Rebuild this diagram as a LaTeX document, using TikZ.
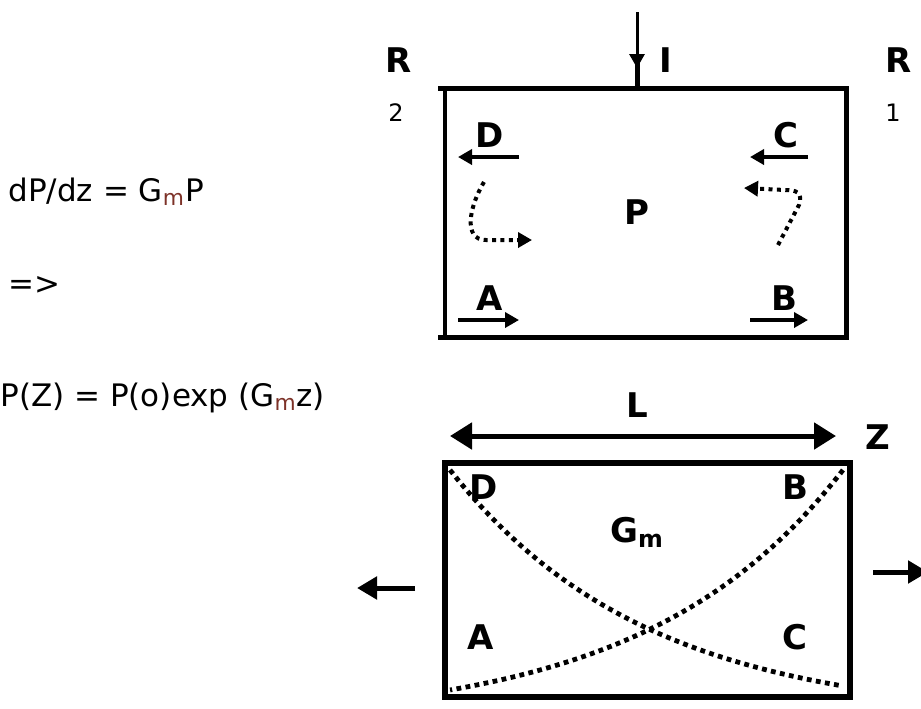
\documentclass[tikz,border=0pt]{standalone}
\usepackage{fontspec}
\setmainfont{DejaVu Sans}
\usetikzlibrary{arrows.meta}
\definecolor{SubRed}{RGB}{125,50,40}
\tikzset{
  lbl/.style={font=\fontsize{17}{19}\selectfont\bfseries,inner sep=0pt},
  idx/.style={font=\fontsize{12}{14}\selectfont,inner sep=0pt},
  eqn/.style={anchor=west,inner sep=0pt,font=\fontsize{15.5}{18}\selectfont},
  dots/.style={line width=2pt,dash pattern=on 2pt off 2.2pt},
  bigdots/.style={line width=2.4pt,dash pattern=on 2.4pt off 2.2pt}
}

\begin{document}
\begin{tikzpicture}[x=0.5pt,y=-0.5pt,>={Triangle[length=7pt,width=7.5pt]}]
  \useasboundingbox (0,0) rectangle (921,708);
  % equations
  \node[eqn] (eqA) at (8,192) {dP/dz = G\textsubscript{\textcolor{SubRed}{m}}P};
  \node[eqn] (eqB) at (8,285) {=>};
  \node[eqn] (eqC) at (0,398) {P(Z) = P(o)exp (G\textsubscript{\textcolor{SubRed}{m}}z)};
  % upper cavity
  \draw[line width=2.5pt] (438,88) -- (846,88) -- (846,337) -- (438,337);
  \draw[line width=1.8pt] (445,88) -- (445,337);
  \draw[line width=1.5pt,->] (637,12) -- (637,68);
  \draw[line width=2.5pt] (637,60) -- (637,90);
  \node[lbl] (iIn) at (666,60) {I};
  \node[lbl] (rTwo) at (399,60) {R};
  \node[idx] (rTwoIdx) at (396,113) {2};
  \node[lbl] (rOne) at (899,60) {R};
  \node[idx] (rOneIdx) at (893,113) {1};
  \node[lbl] (pUp) at (637,212) {P};
  \node[lbl] (dUp) at (490,135) {D};
  \node[lbl] (cUp) at (786,135) {C};
  \node[lbl] (aUp) at (490,298) {A};
  \node[lbl] (bUp) at (784,298) {B};
  \draw[line width=2pt,->] (519,157) -- (458,157);
  \draw[line width=2pt,->] (808,157) -- (750,157);
  \draw[line width=2pt,->] (458,320) -- (519,320);
  \draw[line width=2pt,->] (750,320) -- (808,320);
  \draw[dots,->] (484,182) .. controls (470,205) and (462,240) .. (486,240) -- (532,240);
  \draw[dots,->] (778,245) -- (799,205) .. controls (803,192) and (796,190) .. (785,190) -- (744,188);
  % lower cavity
  \draw[line width=3pt] (445,463) rectangle (850,697);
  \draw[line width=2.5pt,{Triangle[length=11pt,width=13pt]}-{Triangle[length=11pt,width=13pt]}] (450,436) -- (836,436);
  \node[lbl] (len) at (637,405) {L};
  \node[lbl] (zAx) at (878,437) {Z};
  \draw[line width=2.5pt,-{Triangle[length=10pt,width=11pt]}] (415,588) -- (357,588);
  \draw[line width=2.5pt,-{Triangle[length=10pt,width=11pt]}] (873,572) -- (928,572);
  \node[lbl] (dLo) at (484,487) {D};
  \node[lbl] (bLo) at (795,487) {B};
  \node[lbl] (gain) at (637,532) {G\textsubscript{m}};
  \node[lbl] (aLo) at (481,637) {A};
  \node[lbl] (cLo) at (795,637) {C};
  \draw[bigdots] plot[domain=0:1,samples=40] ({450+393*\x},{686-216*(exp(-2*\x)-exp(-2))/(1-exp(-2))});
  \draw[bigdots] plot[domain=0:1,samples=40] ({843-393*\x},{690-220*(exp(-2*\x)-exp(-2))/(1-exp(-2))});
\end{tikzpicture}
\end{document}
